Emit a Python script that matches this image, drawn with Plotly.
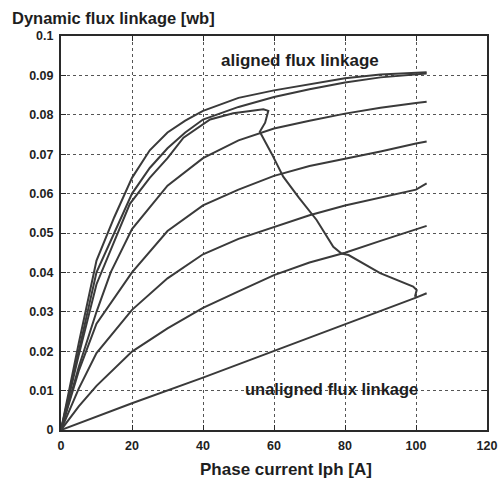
import plotly.graph_objects as go

# Phase current [A] and flux linkage [Wb]
aligned_i = [0, 5, 10, 15, 20, 25, 30, 35, 40, 50, 60, 70, 80, 90, 100, 103]
aligned_psi = [0, 0.022, 0.043, 0.054, 0.064, 0.071, 0.0755, 0.0785, 0.081, 0.0843, 0.0862, 0.0877, 0.0893, 0.0902, 0.0907, 0.0908]

pos2_i = [0, 5, 10, 15, 20, 25, 30, 35, 40, 50, 60, 70, 80, 90, 100, 103]
pos2_psi = [0, 0.020, 0.040, 0.050, 0.060, 0.0665, 0.0715, 0.0755, 0.0788, 0.082, 0.0845, 0.0865, 0.0882, 0.0895, 0.0903, 0.0905]

pos3_i = [0, 5, 10, 14, 20, 25, 30, 40, 50, 60, 70, 80, 90, 100, 103]
pos3_psi = [0, 0.016, 0.030, 0.040, 0.051, 0.0565, 0.062, 0.069, 0.0735, 0.0765, 0.0785, 0.0803, 0.0818, 0.083, 0.0833]

pos4_i = [0, 5, 10, 20, 30, 40, 50, 60, 70, 80, 90, 100, 103]
pos4_psi = [0, 0.015, 0.027, 0.040, 0.0505, 0.057, 0.061, 0.0645, 0.067, 0.0688, 0.0707, 0.0727, 0.0732]

pos5_i = [0, 5, 10, 20, 30, 40, 50, 60, 70, 80, 90, 100, 103]
pos5_psi = [0, 0.0105, 0.0195, 0.0305, 0.0385, 0.0446, 0.0485, 0.0515, 0.0545, 0.057, 0.059, 0.061, 0.0626]

pos6_i = [0, 5, 10, 20, 30, 40, 50, 60, 70, 80, 90, 100, 103]
pos6_psi = [0, 0.006, 0.0112, 0.0199, 0.0258, 0.031, 0.0352, 0.0393, 0.0425, 0.045, 0.048, 0.0508, 0.0518]

unaligned_i = [0, 20, 40, 60, 80, 100, 103]
unaligned_psi = [0, 0.0068, 0.0133, 0.0200, 0.0268, 0.0336, 0.0347]

traj_i = [0, 5, 10, 15, 19.4, 25, 30, 34.5, 42, 48.5, 57, 58.4, 57.5, 56, 59.3, 62.6, 67, 72, 76.7, 79, 81, 89.9, 99.2, 100.2, 99.7]
traj_psi = [0, 0.019, 0.037, 0.048, 0.0574, 0.064, 0.069, 0.0742, 0.0788, 0.0804, 0.0814, 0.081, 0.078, 0.0757, 0.0702, 0.0643, 0.059, 0.0533, 0.0465, 0.0448, 0.0444, 0.0398, 0.0364, 0.0355, 0.0338]

x_ticks = [0, 20, 40, 60, 80, 100, 120]
y_ticks = [0, 0.01, 0.02, 0.03, 0.04, 0.05, 0.06, 0.07, 0.08, 0.09, 0.1]
y_tick_text = ["0", "0.01", "0.02", "0.03", "0.04", "0.05", "0.06", "0.07", "0.08", "0.09", "0.1"]

LINE = "#3a3a3a"
TXT = "#1e1e1e"
FONT = "Liberation Sans, Arial, sans-serif"

fig = go.Figure()
for xs, ys in [(aligned_i, aligned_psi), (pos2_i, pos2_psi), (pos3_i, pos3_psi),
               (pos4_i, pos4_psi), (pos5_i, pos5_psi), (pos6_i, pos6_psi),
               (unaligned_i, unaligned_psi), (traj_i, traj_psi)]:
    fig.add_trace(go.Scatter(x=xs, y=ys, mode="lines",
                             line=dict(color=LINE, width=2), showlegend=False,
                             hoverinfo="skip"))

axis_common = dict(showgrid=True, gridcolor="#555555", griddash="dot", gridwidth=1,
                   showline=True, linecolor="#2a2a2a", linewidth=2, mirror="allticks",
                   ticks="inside", ticklen=5, tickcolor="#2a2a2a", tickwidth=1,
                   zeroline=False, automargin=False,
                   tickfont=dict(family=FONT, size=12.5, color=TXT, weight="bold"))

fig.update_xaxes(range=[0, 120], tickvals=x_ticks, ticktext=[str(v) for v in x_ticks],
                 ticklabelstandoff=3, **axis_common)
fig.update_yaxes(range=[0, 0.1], tickvals=y_ticks, ticktext=y_tick_text,
                 ticklabelstandoff=3, **axis_common)

fig.add_annotation(x=67.3, y=0.0937, text="aligned flux linkage", showarrow=False,
                   font=dict(family=FONT, size=17, color=TXT, weight="bold"))
fig.add_annotation(x=76.2, y=0.0104, text="unaligned flux linkage", showarrow=False,
                   font=dict(family=FONT, size=16.5, color=TXT, weight="bold"))

fig.add_annotation(xref="paper", yref="paper", x=-0.12, y=1.046, xanchor="left",
                   yanchor="middle", text="Dynamic flux linkage [wb]", showarrow=False,
                   font=dict(family=FONT, size=16.5, color=TXT, weight="bold"))
fig.add_annotation(xref="paper", yref="paper", x=0.529, y=-0.099, xanchor="center",
                   yanchor="middle", text="Phase current Iph [A]", showarrow=False,
                   font=dict(family=FONT, size=17, color=TXT, weight="bold"))

fig.update_layout(width=499, height=480, margin=dict(l=61, r=12, t=36, b=50),
                  plot_bgcolor="white", paper_bgcolor="white")

fig.write_html("out.html")
